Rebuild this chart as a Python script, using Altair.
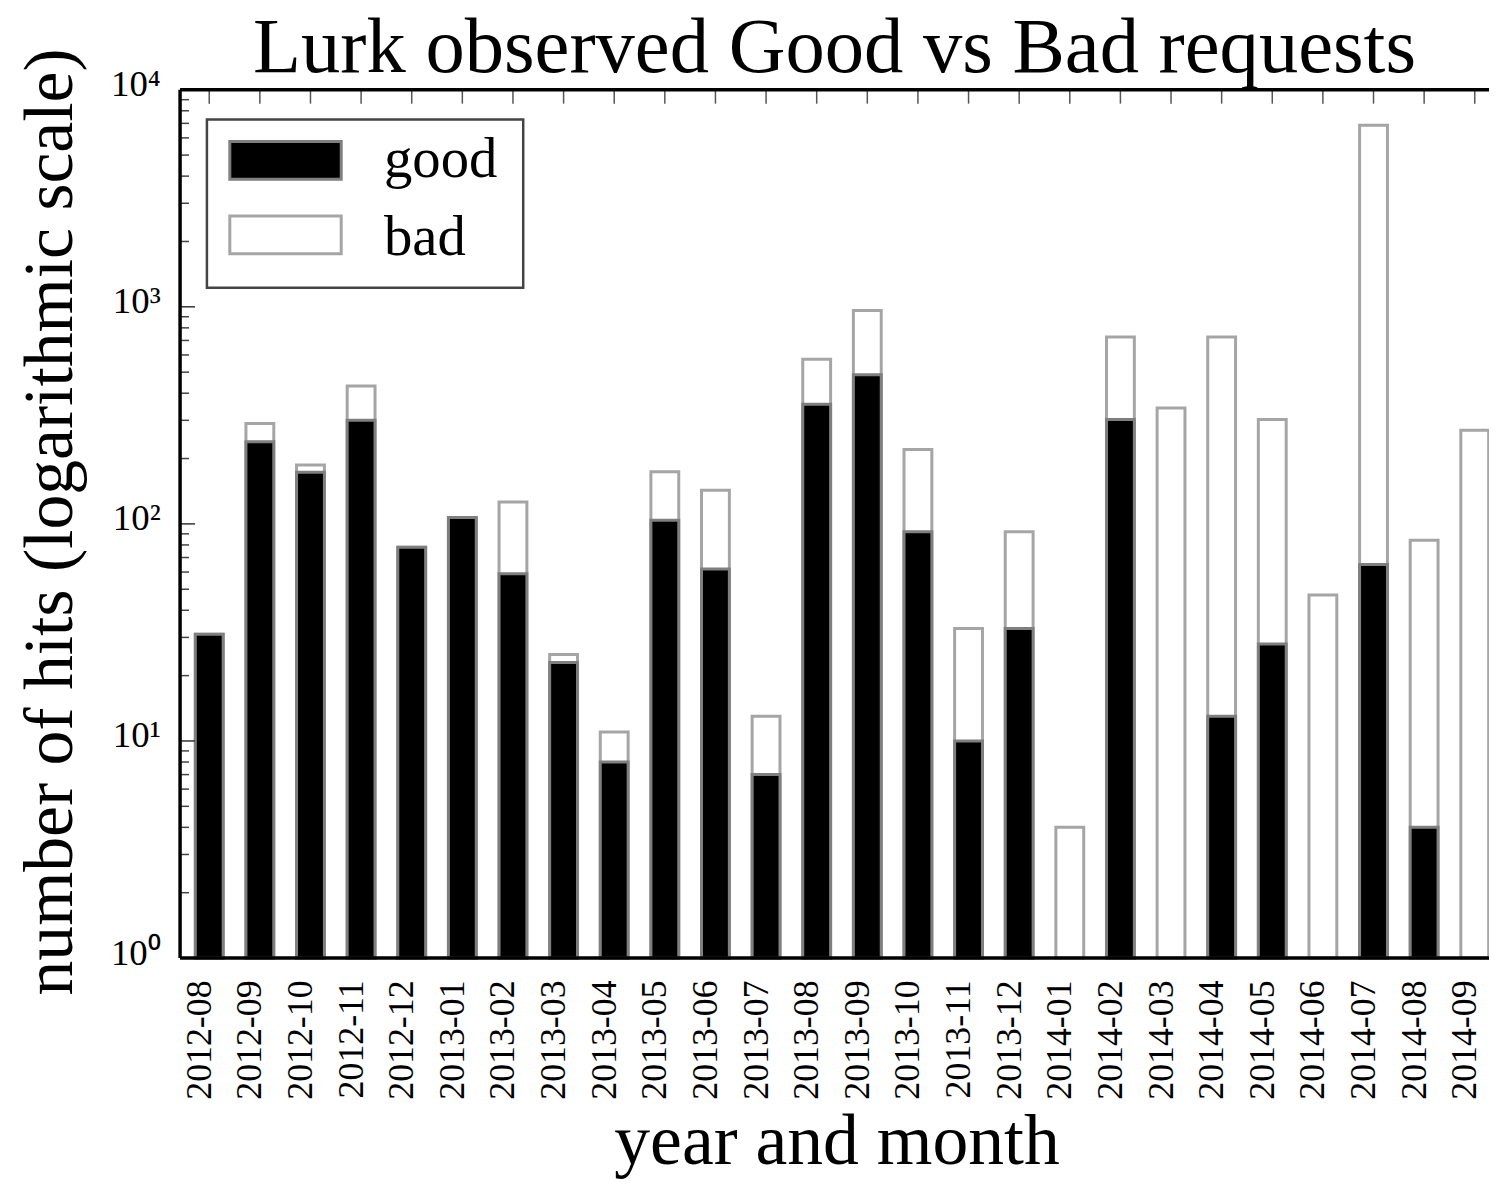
import altair as alt
import pandas as pd

# ---------------- data ----------------
months = ["2012-08", "2012-09", "2012-10", "2012-11", "2012-12",
          "2013-01", "2013-02", "2013-03", "2013-04", "2013-05", "2013-06",
          "2013-07", "2013-08", "2013-09", "2013-10", "2013-11", "2013-12",
          "2014-01", "2014-02", "2014-03", "2014-04", "2014-05", "2014-06",
          "2014-07", "2014-08", "2014-09"]
good = [31, 239, 173, 300, 78, 107, 59, 23, 8, 104, 62, 7, 356, 487, 92, 10, 33,
        0, 303, 0, 13, 28, 0, 65, 4, 0]
bad = [0, 51, 14, 132, 0, 0, 67, 2, 3, 70, 81, 6, 217, 474, 128, 23, 59,
       4, 423, 342, 713, 275, 47, 6795, 80, 270]
series = ["good", "bad"]
title_text = "Lurk observed Good vs Bad requests"
y_tick_values = [1, 10, 100, 1000, 10000]
y_tick_sup = ["\u2070", "\u00b9", "\u00b2", "\u00b3", "\u2074"]

df = pd.DataFrame({"month": months, "idx": list(range(len(months))),
                   "good": good, "bad": bad})

FONT = "Liberation Serif"
W = 1316          # visible plot width (page is cut at the right)
XR = 1331         # full length of the x axis
H = 873

xscale = alt.Scale(domain=[-0.478, len(months) - 1 + 0.478], range=[0, XR],
                   nice=False, zero=False)
yscale = alt.Scale(type="log", domain=[1, 10000], nice=False)

xlabel_expr = "[" + ",".join("'%s'" % m for m in months) + "][datum.value]"
ylabel_expr = "'10' + [" + ",".join("'%s'" % s for s in y_tick_sup) + \
              "][round(log(datum.value)/LN10)]"

xaxis = alt.Axis(values=list(range(len(months))), labelExpr=xlabel_expr,
                 labelAngle=270, labelFontSize=36, labelFont=FONT,
                 labelColor="black", labelPadding=22, labelOffset=-10,
                 ticks=False, tickSize=0, domain=False, grid=False,
                 labelOverlap=False, labelFlush=False,
                 title="year and month", titleFont=FONT, titleFontSize=72,
                 titleFontWeight="normal", titleColor="black",
                 titleX=660, titleY=207, titleBaseline="alphabetic",
                 titleAlign="center", titleAngle=0)
yaxis = alt.Axis(values=y_tick_values, labelExpr=ylabel_expr,
                 labelFontSize=37, labelFont=FONT, labelColor="black",
                 labelPadding=20, labelBaseline="alphabetic", labelOffset=6,
                 ticks=False, tickSize=0, domain=False, grid=False,
                 labelOverlap=False, labelFlush=False,
                 title="number of hits (logarithmic scale)", titleFont=FONT,
                 titleFontSize=70, titleFontWeight="normal", titleColor="black",
                 titleAngle=270, titleX=-109, titleY=434,
                 titleBaseline="alphabetic", titleAlign="center")

X = alt.X("idx:Q", scale=xscale, axis=xaxis)

base = alt.Chart(df).transform_calculate(total="datum.good + datum.bad")

one = alt.Data(values=[{"a": 1}])

# inward ticks at the bottom (behind the bars)
bottom_ticks = base.mark_rule(stroke="#7a7a7a", strokeWidth=1.5).encode(
    x=X, y=alt.value(H - 13), y2=alt.value(H))

bad_bars = base.mark_bar(size=28, fill="white", stroke="#a5a5a5",
                         strokeWidth=3).encode(
    x=X, y=alt.Y("total:Q", scale=yscale, axis=yaxis), y2=alt.datum(1))

good_bars = base.transform_filter("datum.good > 0").mark_bar(
    size=28, fill="black", stroke="#7f7f7f", strokeWidth=3).encode(
    x=X, y=alt.Y("good:Q", scale=yscale, axis=yaxis), y2=alt.datum(1))

top_ticks = base.mark_rule(stroke="#555", strokeWidth=1.5).encode(
    x=X, y=alt.value(0), y2=alt.value(14))

major_vals = [{"v": v} for v in y_tick_values]
minor_vals = [{"v": m * 10 ** k} for k in range(4) for m in range(2, 10)]

left_major = alt.Chart(alt.Data(values=major_vals)).mark_rule(
    stroke="#333", strokeWidth=1.5).encode(
    y=alt.Y("v:Q", scale=yscale, axis=yaxis), x=alt.value(0), x2=alt.value(15))
left_minor = alt.Chart(alt.Data(values=minor_vals)).mark_rule(
    stroke="#444", strokeWidth=1.5).encode(
    y=alt.Y("v:Q", scale=yscale, axis=yaxis), x=alt.value(0), x2=alt.value(9))

spine_left = alt.Chart(one).mark_rule(stroke="black", strokeWidth=3.5).encode(
    x=alt.value(0), y=alt.value(0), y2=alt.value(H))
spine_top = alt.Chart(one).mark_rule(stroke="black", strokeWidth=3.5).encode(
    x=alt.value(0), x2=alt.value(XR), y=alt.value(0))
spine_bottom = alt.Chart(one).mark_rule(stroke="black", strokeWidth=3.5).encode(
    x=alt.value(0), x2=alt.value(XR), y=alt.value(H))

# chart title
title_mark = alt.Chart(one).mark_text(font=FONT, fontSize=79, align="center",
                                      baseline="alphabetic", color="black").encode(
    x=alt.value(658), y=alt.value(-18), text=alt.value(title_text))

# legend box
leg_box = alt.Chart(one).mark_rect(fill="white", stroke="#444",
                                   strokeWidth=2.5).encode(
    x=alt.value(27), x2=alt.value(345), y=alt.value(30), y2=alt.value(199))
leg_good = alt.Chart(one).mark_rect(fill="black", stroke="#7f7f7f",
                                    strokeWidth=3).encode(
    x=alt.value(50), x2=alt.value(162), y=alt.value(52), y2=alt.value(90))
leg_bad = alt.Chart(one).mark_rect(fill="white", stroke="#a5a5a5",
                                   strokeWidth=3).encode(
    x=alt.value(50), x2=alt.value(162), y=alt.value(127), y2=alt.value(165))
leg_good_t = alt.Chart(one).mark_text(font=FONT, fontSize=57, align="left",
                                      baseline="alphabetic", color="black").encode(
    x=alt.value(205), y=alt.value(88), text=alt.value(series[0]))
leg_bad_t = alt.Chart(one).mark_text(font=FONT, fontSize=57, align="left",
                                     baseline="alphabetic", color="black").encode(
    x=alt.value(205), y=alt.value(166), text=alt.value(series[1]))

chart = alt.layer(
    bottom_ticks, bad_bars, good_bars, top_ticks, left_major, left_minor,
    spine_left, spine_top, spine_bottom, title_mark,
    leg_box, leg_good, leg_bad, leg_good_t, leg_bad_t
).properties(
    width=W, height=H,
    autosize=alt.AutoSizeParams(type="none"),
    padding={"left": 173, "top": 79, "right": 0, "bottom": 226},
    background="white",
).configure_view(stroke=None)

chart.save("out.html", embed_options={"renderer": "svg", "actions": False})
